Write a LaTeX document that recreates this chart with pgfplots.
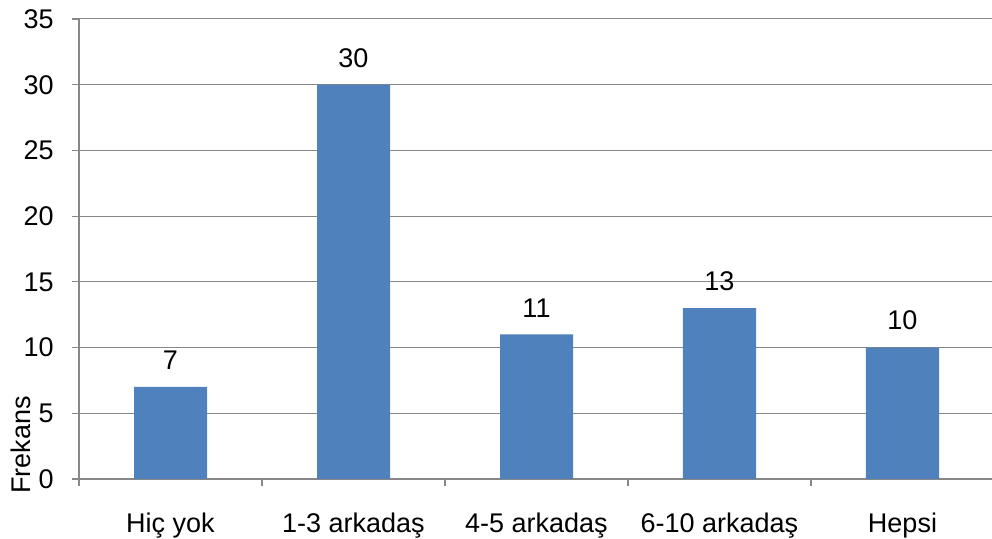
\documentclass[border=0pt]{standalone}
\usepackage{pgfplots}
\pgfplotsset{compat=1.18}
\usepackage{fontspec}
\setmainfont{Liberation Sans}
\definecolor{barblue}{HTML}{4F81BD}
\definecolor{axgray}{HTML}{878787}
\begin{document}
\fontsize{13.5}{16}\selectfont
\begin{tikzpicture}
\useasboundingbox (0,0) rectangle (496pt,269.5pt);
\begin{axis}[
  at={(39.5pt,30pt)}, anchor=south west,
  scale only axis,
  width=457.5pt, height=230pt,
  xmin=-0.5, xmax=4.5, ymin=0, ymax=35,
  ytick={0,5,...,35},
  xtick={0,1,2,3,4},
  xticklabels={Hiç yok,1-3 arkadaş,4-5 arkadaş,6-10 arkadaş,Hepsi},
  minor xtick={-0.5,0.5,1.5,2.5,3.5,4.5},
  major tick length=3.5pt, minor tick length=3.5pt,
  major x tick style={draw=none},
  tick align=outside,
  tick style={axgray, line width=0.6pt},
  axis x line*=bottom, axis y line*=left,
  axis line style={axgray, line width=0.7pt, -},
  ymajorgrids, grid style={axgray, line width=0.5pt},
  /pgf/number format/assume math mode=true,
  ticklabel style={font=\fontsize{13.5}{16}\selectfont},
  xticklabel style={yshift=-9pt},
  yticklabel style={xshift=-4.5pt},
  ylabel={Frekans},
  ylabel style={at={(axis description cs:0,0.074)}, anchor=south, yshift=19.5pt, font=\fontsize{13.5}{16}\selectfont},
  ybar, bar width=36.5pt,
  nodes near coords,
  nodes near coords style={font=\fontsize{13.5}{16}\selectfont, yshift=4pt},
]
\addplot[fill=barblue, draw=none] coordinates {(0,7) (1,30) (2,11) (3,13) (4,10)};
\end{axis}
\end{tikzpicture}
\end{document}
